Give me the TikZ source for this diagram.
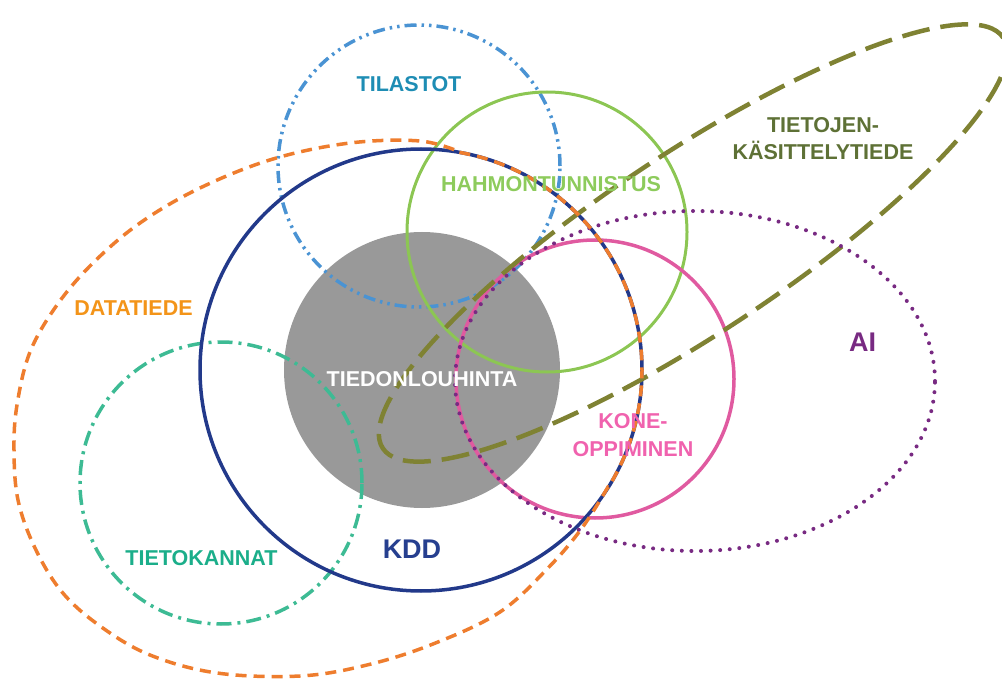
\documentclass[tikz,border=0pt]{standalone}
\usepackage{fontspec}
\setmainfont{Liberation Sans}
\definecolor{cOrange}{HTML}{EE7D2E}
\definecolor{tOrange}{HTML}{F39419}
\definecolor{cNavy}{HTML}{22398A}
\definecolor{tNavy}{HTML}{263F8F}
\definecolor{cBlue}{HTML}{4A93D3}
\definecolor{tBlue}{HTML}{1E8DB4}
\definecolor{cGreen}{HTML}{8CC653}
\definecolor{tGreen}{HTML}{8DCB5C}
\definecolor{cPink}{HTML}{E05AA0}
\definecolor{tPink}{HTML}{F062AE}
\definecolor{cPurple}{HTML}{782A82}
\definecolor{cOlive}{HTML}{7F8233}
\definecolor{tOlive}{HTML}{5E7136}
\definecolor{cTeal}{HTML}{3DBB94}
\definecolor{tTeal}{HTML}{1BAE8A}
\definecolor{cGrey}{HTML}{999999}
\begin{document}
\begin{tikzpicture}[x=1pt,y=-1pt,
  lbl/.style={font=\bfseries\fontsize{21.5}{27.5}\selectfont, inner sep=0pt, anchor=base, align=center},
  biglbl/.style={lbl, font=\bfseries\fontsize{27}{32}\selectfont},
  orangeline/.style={draw=cOrange, line width=3.5pt, dash pattern=on 11pt off 7pt},
  navyline/.style={draw=cNavy, line width=3.5pt},
  blueline/.style={draw=cBlue, line width=3.5pt, dash pattern=on 12pt off 5pt on 2.5pt off 5pt on 2.5pt off 5pt},
  tealline/.style={draw=cTeal, line width=3.5pt, dash pattern=on 15pt off 6pt on 3pt off 6pt},
  greenline/.style={draw=cGreen, line width=3pt},
  pinkline/.style={draw=cPink, line width=3.5pt},
  oliveline/.style={draw=cOlive, line width=4.5pt, dash pattern=on 28pt off 11pt},
  purpleline/.style={draw=cPurple, line width=4pt, line cap=round, dash pattern=on 0pt off 9.6pt}
]
\useasboundingbox (0,0) rectangle (1002,679);
% grey core
\fill[cGrey] (422,370) circle[radius=138pt];
% circles
\draw[tealline] (221,483) circle[radius=141pt];
\draw[blueline] (419,166) circle[radius=141pt];
\draw[greenline] (547,232) circle[radius=140pt];
\draw[pinkline] (595,379) circle[radius=139pt];
\draw[navyline] (421,370) circle[radius=221pt];
% tietojenkasittelytiede
\draw[oliveline, rotate around={33.5:(693,243)}] (693,243) ellipse[x radius=372pt, y radius=90pt];
% AI
\draw[purpleline] (695,381) ellipse[x radius=240pt, y radius=170pt];
% datatiede
\draw[orangeline] (421,370) ++(80:221pt) arc[start angle=80, end angle=-32, radius=221pt]
  -- plot[smooth, tension=0.6] coordinates {(608,487) (582,528) (549,567) (500,612) (433,644) (367,665) (300,676) (217,673) (150,655) (100,626) (62,592) (35,548) (18,500) (14,450) (17,405) (30,352) (57,305) (93,263) (140,223) (200,188) (273,159) (350,143) (420,141) (460,152)};
% labels
\node[lbl, text=tBlue] (tilastot) at (409,92) {TILASTOT};
\node[lbl, text=tGreen] (hahmo) at (551,192) {HAHMONTUNNISTUS};
\node[lbl, text=tOlive, anchor=center] (tkt) at (823,138.5) {TIETOJEN-\\KÄSITTELYTIEDE};
\node[lbl, text=tOrange] (datatiede) at (133.5,316) {DATATIEDE};
\node[biglbl, text=cPurple] (ai) at (862.5,352) {AI};
\node[lbl, text=white] (tiedon) at (422,386) {TIEDONLOUHINTA};
\node[lbl, text=tPink, anchor=center] (kone) at (633,435) {KONE-\\OPPIMINEN};
\node[biglbl, text=tNavy] (kdd) at (412,558) {KDD};
\node[lbl, text=tTeal] (tietokannat) at (201.5,565.5) {TIETOKANNAT};
\end{tikzpicture}
\end{document}
